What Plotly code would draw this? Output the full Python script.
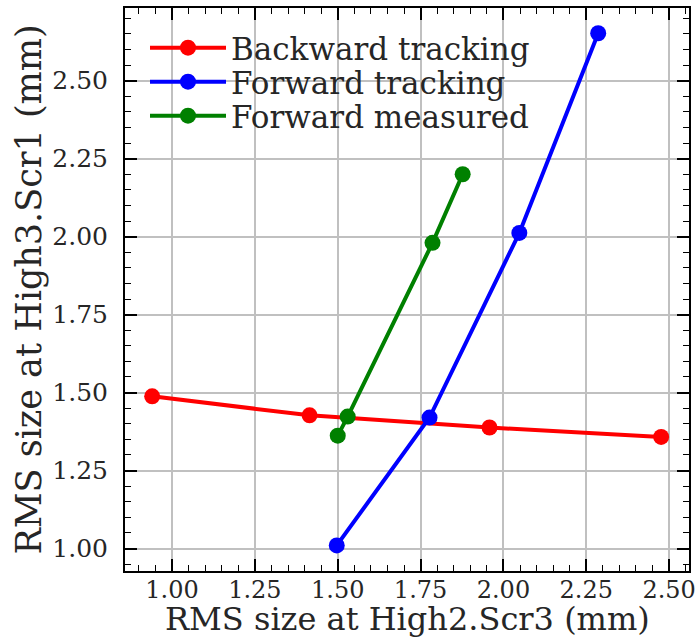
import plotly.graph_objects as go

bwd_x = [0.94, 1.415, 1.958, 2.476]
bwd_y = [1.488, 1.427, 1.388, 1.358]
fwd_x = [1.497, 1.777, 2.048, 2.286]
fwd_y = [1.01, 1.42, 2.012, 2.652]
meas_x = [1.50, 1.53, 1.786, 1.877]
meas_y = [1.362, 1.423, 1.98, 2.20]

series = [
    ("Backward tracking", bwd_x, bwd_y, "#ff0000"),
    ("Forward tracking", fwd_x, fwd_y, "#0000ff"),
    ("Forward measured", meas_x, meas_y, "#008000"),
]
x_title = "RMS size at High2.Scr3 (mm)"
y_title = "RMS size at High3.Scr1 (mm)"

font_family = "DejaVu Serif"
W, H = 697, 639
ml, mr, mt, mb = 125, 8, 8, 68
ph = H - mt - mb
legend_ids = ["legend", "legend2", "legend3"]
legend_rows_px = [48, 82, 116]  # vertical centres of legend rows (pixels from top)

fig = go.Figure()
for (name, xs, ys, c), lid in zip(series, legend_ids):
    fig.add_trace(go.Scatter(x=xs, y=ys, name=name, mode="lines+markers",
                             line=dict(color=c, width=4),
                             marker=dict(color=c, size=16), legend=lid))

axis_common = dict(
    showline=True, linecolor="black", linewidth=2, mirror="allticks",
    ticks="inside", ticklen=12, tickwidth=1.5, tickcolor="black",
    showgrid=True, gridcolor="#c0c0c0", gridwidth=1.5, zeroline=False,
    minor=dict(ticks="inside", ticklen=6, tickwidth=1.2, tickcolor="black",
               dtick=0.05, showgrid=False),
    tickformat=".2f", dtick=0.25, automargin=False,
)

legends = {}
for lid, ypx in zip(legend_ids, legend_rows_px):
    legends[lid] = dict(
        x=(152 - ml - 7) / (W - ml - mr), xanchor="left",
        y=1 - (ypx - mt) / ph, yanchor="middle",
        font=dict(family=font_family, size=31, color="#262626"),
        bgcolor="rgba(255,255,255,0)", itemwidth=76,
    )

fig.update_layout(
    width=W, height=H,
    margin=dict(l=ml, r=mr, t=mt, b=mb, autoexpand=False),
    plot_bgcolor="white", paper_bgcolor="white",
    font=dict(family=font_family, color="#262626"),
    showlegend=True,
    xaxis=dict(range=[0.858, 2.56], tick0=1.0, ticklabelstandoff=-4,
               tickfont=dict(family=font_family, size=24, color="#262626"),
               **axis_common),
    yaxis=dict(range=[0.928, 2.733], tick0=1.0, ticklabelstandoff=10,
               tickfont=dict(family=font_family, size=25, color="#262626"),
               title=dict(text=y_title, standoff=0,
                          font=dict(family=font_family, size=35, color="#262626")),
               **axis_common),
    annotations=[dict(text=x_title, xref="paper", yref="paper", x=0.5, y=0,
                      xanchor="center", yanchor="middle", yshift=-48,
                      showarrow=False,
                      font=dict(family=font_family, size=32, color="#262626"))],
    **legends,
)

fig.write_html("out.html")
